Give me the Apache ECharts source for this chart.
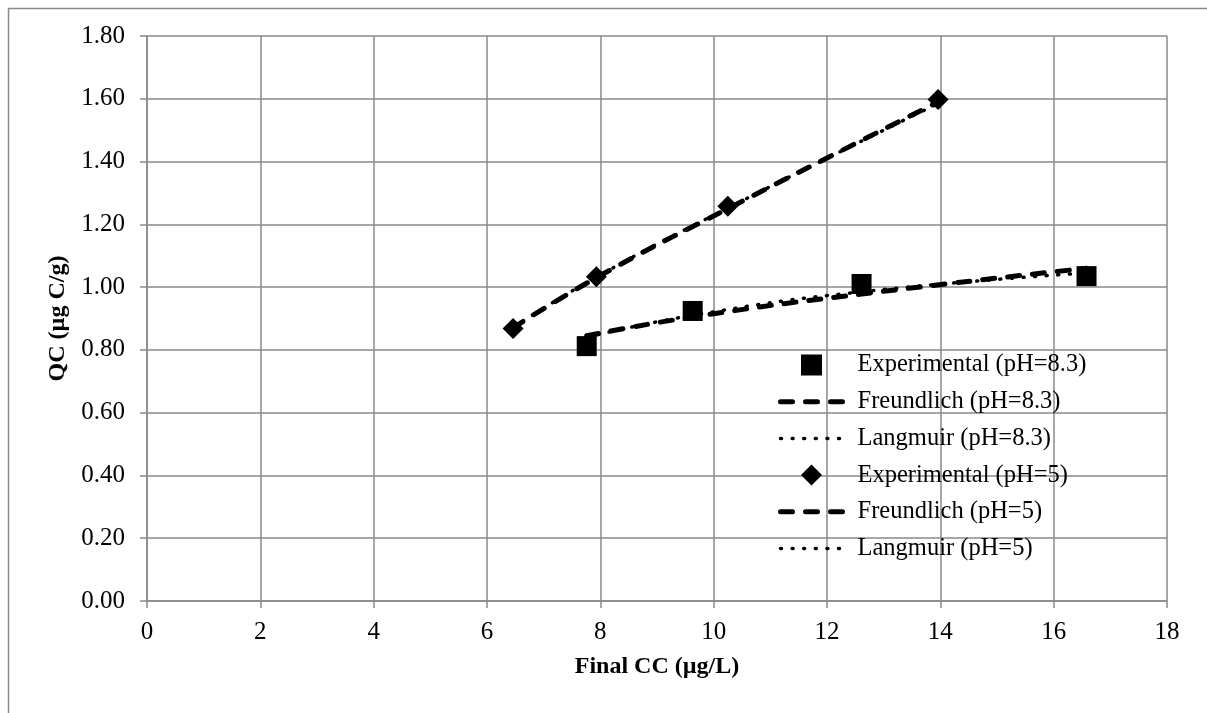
<!DOCTYPE html>
<html>
<head>
<meta charset="utf-8">
<script src="https://cdn.jsdelivr.net/npm/echarts@6/dist/echarts.min.js"></script>
<style>html,body{margin:0;padding:0;background:#fff}#c{width:1207px;height:713px}</style>
</head>
<body>
<div id="c"></div>
<script>
// Data
var seriesNames = ['Experimental (pH=8.3)', 'Freundlich (pH=8.3)', 'Langmuir (pH=8.3)',
                   'Experimental (pH=5)', 'Freundlich (pH=5)', 'Langmuir (pH=5)'];
var expPH83 = [[7.76, 0.812], [9.63, 0.924], [12.61, 1.01], [16.58, 1.035]];
var freundPH83 = [[7.76, 0.845], [9.63, 0.905], [12.61, 0.978], [16.58, 1.06]];
var langPH83 = [[7.76, 0.840], [9.63, 0.910], [12.61, 0.985], [16.58, 1.045]];
var expPH5 = [[6.46, 0.868], [7.93, 1.033], [10.25, 1.258], [13.96, 1.598]];
var freundPH5 = [[6.46, 0.870], [7.93, 1.030], [10.25, 1.250], [13.96, 1.590]];
var langPH5 = [[6.46, 0.872], [7.93, 1.032], [10.25, 1.252], [13.96, 1.585]];
var xTicks = [0, 2, 4, 6, 8, 10, 12, 14, 16, 18];
var yTicks = [0, 0.2, 0.4, 0.6, 0.8, 1.0, 1.2, 1.4, 1.6, 1.8];

var FONT = 'Liberation Serif';
var GRID = '#8a8a8a';
var dashed = [12, 13];
var dotted = [1, 10.6];
var SQUARE = 'path://M0,0L10,0L10,10L0,10Z';
var DIAMOND = 'path://M5,0L10,5L5,10L0,5Z';

function lineSeries(name, data, type, width) {
  return {
    name: name, type: 'line', data: data, smooth: true, showSymbol: false, symbol: 'none',
    lineStyle: { color: '#000', width: width, type: type, cap: 'round' },
    itemStyle: { color: '#000' }, z: 3
  };
}

var legendData = seriesNames.map(function (n, i) {
  if (i === 0) return { name: n, icon: SQUARE };
  if (i === 3) return { name: n, icon: DIAMOND };
  return { name: n, itemStyle: { color: 'rgba(0,0,0,0)', opacity: 0, borderWidth: 0 } };
});

var chart = echarts.init(document.getElementById('c'), null, { renderer: 'canvas' });
chart.setOption({
  animation: false,
  backgroundColor: '#fff',
  textStyle: { fontFamily: FONT },
  graphic: [{
    type: 'rect', left: 6, top: 6, silent: true,
    shape: { x: 0, y: 0, width: 1400, height: 900 },
    style: { fill: 'none', stroke: GRID, lineWidth: 1.5 }
  }],
  grid: { left: 147, right: 40, top: 36, bottom: 112, containLabel: false },
  xAxis: {
    type: 'value', min: xTicks[0], max: xTicks[xTicks.length - 1], interval: 2,
    name: 'Final CC (µg/L)', nameLocation: 'middle', nameGap: 54,
    nameTextStyle: { fontFamily: FONT, fontSize: 24, fontWeight: 'bold', color: '#000' },
    axisLine: { show: true, lineStyle: { color: GRID, width: 1.5 } },
    axisTick: { show: true, inside: false, length: 7, lineStyle: { color: GRID, width: 1.5 } },
    axisLabel: { fontFamily: FONT, fontSize: 25, color: '#000', margin: 19 },
    splitLine: { show: true, lineStyle: { color: GRID, width: 1.5 } }
  },
  yAxis: {
    type: 'value', min: yTicks[0], max: yTicks[yTicks.length - 1], interval: 0.2,
    name: 'QC (µg C/g)', nameLocation: 'middle', nameGap: 77, nameRotate: 90,
    nameTextStyle: { fontFamily: FONT, fontSize: 24, fontWeight: 'bold', color: '#000' },
    axisLine: { show: true, lineStyle: { color: GRID, width: 1.5 } },
    axisTick: { show: true, inside: false, length: 7, lineStyle: { color: GRID, width: 1.5 } },
    axisLabel: { fontFamily: FONT, fontSize: 25, color: '#000', margin: 22,
      formatter: function (v) { return v.toFixed(2); } },
    splitLine: { show: true, lineStyle: { color: GRID, width: 1.5 } }
  },
  legend: {
    orient: 'vertical', left: 778, top: 352, padding: 0,
    itemWidth: 62, itemHeight: 21, itemGap: 10.7, symbolKeepAspect: true,
    lineStyle: { width: 'inherit' },
    textStyle: { fontFamily: FONT, fontSize: 24.5, color: '#000', lineHeight: 26, padding: [0, 0, 0, 10] },
    data: legendData
  },
  series: [
    { name: seriesNames[0], type: 'scatter', data: expPH83, symbol: 'rect', symbolSize: 20,
      itemStyle: { color: '#000', opacity: 1 }, z: 2 },
    lineSeries(seriesNames[1], freundPH83, dashed, 5),
    lineSeries(seriesNames[2], langPH83, dotted, 3.5),
    { name: seriesNames[3], type: 'scatter', data: expPH5, symbol: 'diamond', symbolSize: 21,
      itemStyle: { color: '#000', opacity: 1 }, z: 2 },
    lineSeries(seriesNames[4], freundPH5, dashed, 5),
    lineSeries(seriesNames[5], langPH5, dotted, 3.5)
  ]
});
</script>
</body>
</html>
